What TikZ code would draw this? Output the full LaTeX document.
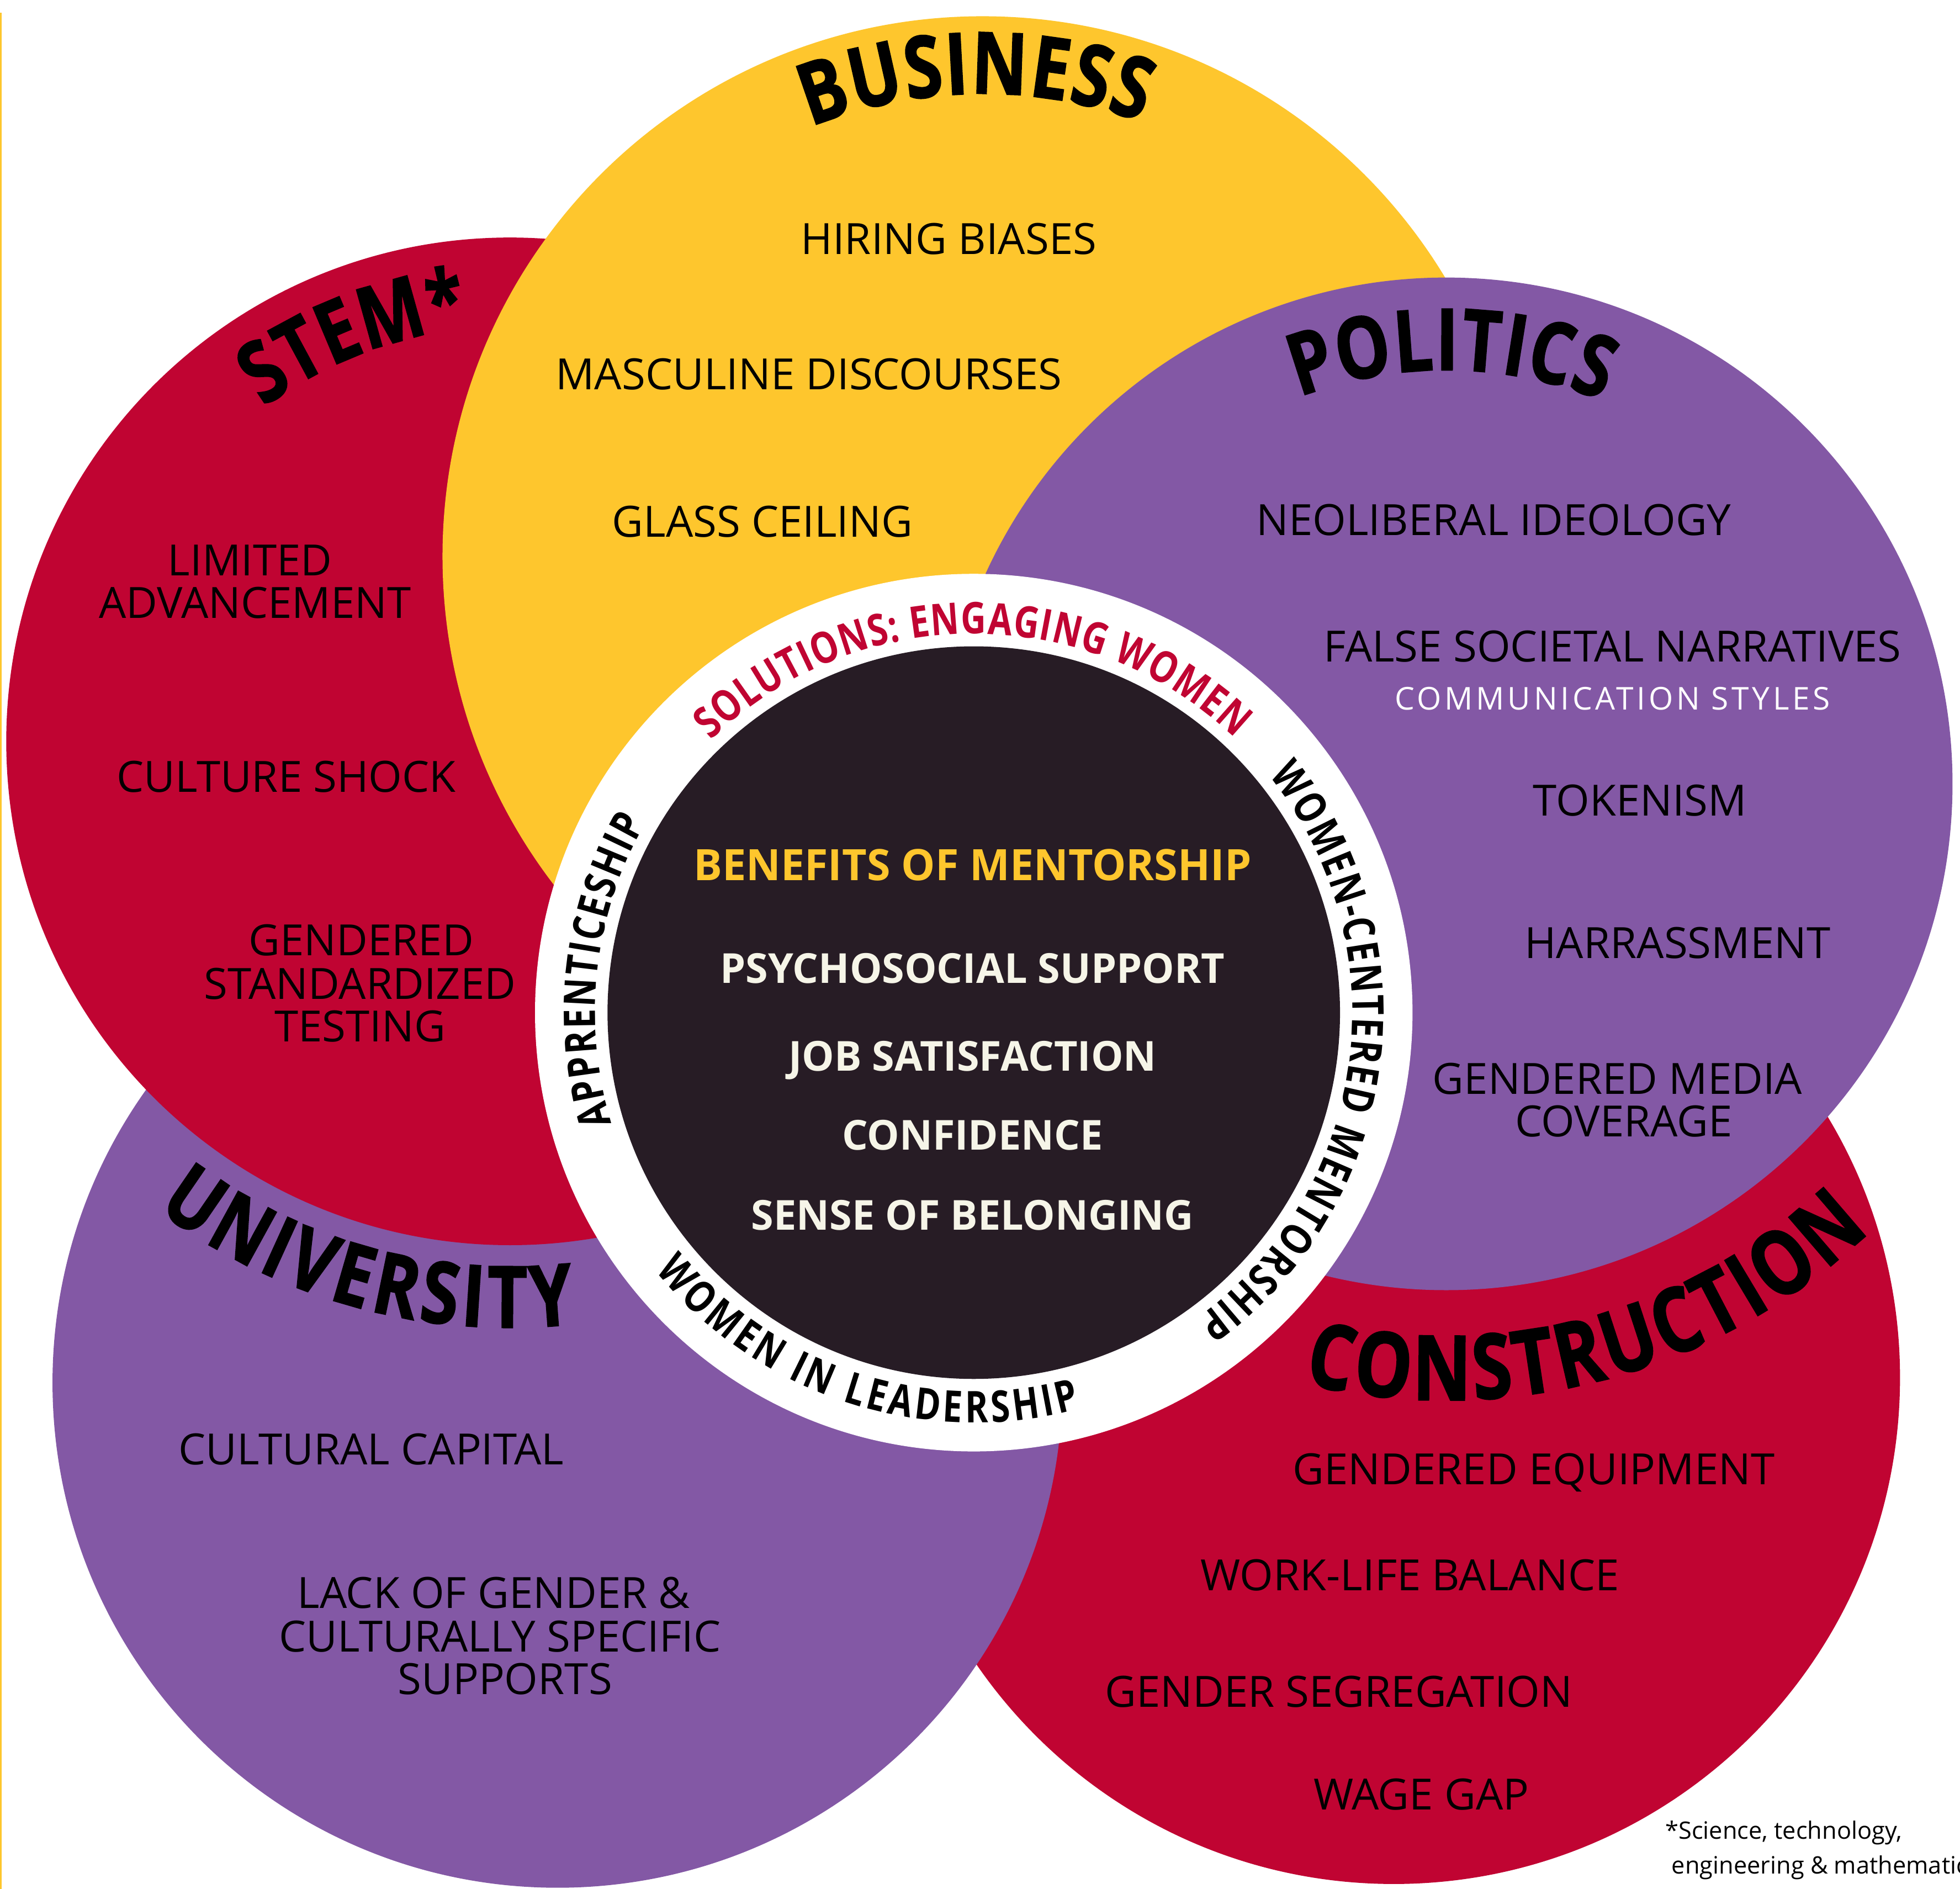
\documentclass[tikz,border=0pt]{standalone}
\usepackage{fontspec}
\setmainfont{Open Sans}
\newfontfamily\listfont{Open Sans}
\newfontfamily\ctrfont{Open Sans}[FakeStretch=0.985]
\newfontfamily\condfont{Open Sans}[FakeStretch=0.8]
\newfontfamily\ttlfont{Open Sans}[FakeStretch=0.8, BoldFeatures={FakeBold=1.5}]
\newfontfamily\commfont{Open Sans}[LetterSpace=10]
\usetikzlibrary{decorations.text}
\definecolor{cyel}{HTML}{FEC62D}
\definecolor{cred}{HTML}{C00432}
\definecolor{cpur}{HTML}{8358A5}
\definecolor{cdark}{HTML}{271C25}
\definecolor{ccream}{HTML}{F6F5E8}
\tikzset{
  item/.style={anchor=base, inner sep=0pt, font=\listfont\fontsize{19.6}{23}\selectfont, text=black},
  ctritem/.style={anchor=base, inner sep=0pt, font=\ctrfont\bfseries\fontsize{18.8}{22}\selectfont, text=ccream},
  ctrhead/.style={anchor=base, inner sep=0pt, font=\ctrfont\bfseries\fontsize{19.7}{23}\selectfont, text=cyel},
  commitem/.style={anchor=base, inner sep=0pt, font=\commfont\fontsize{14.3}{17}\selectfont, text=white},
  foot/.style={anchor=base west, inner sep=0pt, font=\listfont\fontsize{10.9}{13}\selectfont, text=black},
  curved/.style={decorate, decoration={text along path, text align={fit to path}, text color=#1}},
}
\newcommand{\ringtxt}{\condfont\bfseries\fontsize{19.9}{22}\selectfont}
\newcommand{\ttltxt}{\ttlfont\bfseries\fontsize{39}{42}\selectfont}
\newcommand{\ttltxtb}{\ttlfont\bfseries\fontsize{41}{44}\selectfont}
\begin{document}
\begin{tikzpicture}[x=0.02cm, y=-0.02cm]
\useasboundingbox (0,0) rectangle (1568,1511);
\clip (0,0) rectangle (1568,1511);
\fill[white] (0,0) rectangle (1568,1511);
\fill[cyel] (0,10) rectangle (1.3,1511);
% circles
\fill[cred] (1115,1102) circle[radius=405];
\fill[cpur] (446,1106) circle[radius=404];
\fill[cred] (408,593) circle[radius=403];
\fill[cyel] (786,445) circle[radius=432];
\fill[cpur] (1157,627) circle[radius=405];
\fill[white] (779,810) circle[radius=351];
\fill[cdark] (779,810) circle[radius=293];
% titles
\path[curved=black, decoration={text={|\ttltxt|BUSINESS}}] (786,445) ++(-111.8:370) arc[start angle=-111.8, end angle=-69.9, radius=370];
\path[curved=black, decoration={text={|\ttltxt|STEM*}}] (408,593) ++(-126.4:332) arc[start angle=-126.4, end angle=-95.9, radius=332];
\path[curved=black, decoration={text={|\ttltxt|POLITICS}}] (1157,627) ++(-110.8:331) arc[start angle=-110.8, end angle=-67.8, radius=331];
\path[curved=black, decoration={text={|\ttltxt|UNIVERSITY}}] (408,593) ++(127:469) arc[start angle=127, end angle=83.7, radius=469];
\path[curved=black, decoration={text={|\ttltxtb|CONSTRUCTION}}] (1157,627) ++(103.4:493) arc[start angle=103.4, end angle=46.6, radius=493];
% ring texts
\path[curved=cred, decoration={text={|\ringtxt|SOLUTIONS: ENGAGING WOMEN}}] (779,810) ++(-134:303) arc[start angle=-134, end angle=-46.5, radius=303];
\path[curved=black, decoration={text={|\ringtxt|WOMEN-CENTERED MENTORSHIP}}] (779,810) ++(-38.8:303) arc[start angle=-38.8, end angle=54, radius=303];
\path[curved=black, decoration={text={|\ringtxt|APPRENTICESHIP}}] (779,810) ++(163:303) arc[start angle=163, end angle=210, radius=303];
\path[curved=black, decoration={text={|\ringtxt|WOMEN IN LEADERSHIP}}] (779,810) ++(141:328) arc[start angle=141, end angle=75, radius=328];
% business items
\node[item] (b1) at (759,203.4) {HIRING BIASES};
\node[item] (b2) at (647,311.4) {MASCULINE DISCOURSES};
\node[item] (b3) at (610,429.4) {GLASS CEILING};
% stem items
\node[item] (s1a) at (200,460.4) {LIMITED};
\node[item] (s1b) at (204,494.4) {ADVANCEMENT};
\node[item] (s2) at (229,633.4) {CULTURE SHOCK};
\node[item] (s3a) at (289,764.4) {GENDERED};
\node[item] (s3b) at (288,799.4) {STANDARDIZED};
\node[item] (s3c) at (288,833.4) {TESTING};
% politics items
\node[item] (p1) at (1195,428.4) {NEOLIBERAL IDEOLOGY};
\node[item] (p2) at (1290,529.4) {FALSE SOCIETAL NARRATIVES};
\node[commitem] (p3) at (1290,568) {COMMUNICATION STYLES};
\node[item] (p4) at (1312,652.4) {TOKENISM};
\node[item] (p5) at (1342,766.4) {HARRASSMENT};
\node[item] (p6a) at (1294,875.4) {GENDERED MEDIA};
\node[item] (p6b) at (1299,909.4) {COVERAGE};
% university items
\node[item] (u1) at (297,1171.4) {CULTURAL CAPITAL};
\node[item] (u2a) at (395,1286.4) {LACK OF GENDER \&};
\node[item] (u2b) at (400,1321.4) {CULTURALLY SPECIFIC};
\node[item] (u2c) at (404,1355.4) {SUPPORTS};
% construction items
\node[item] (c1) at (1227,1187.4) {GENDERED EQUIPMENT};
\node[item] (c2) at (1128,1272.4) {WORK-LIFE BALANCE};
\node[item] (c3) at (1071,1365.4) {GENDER SEGREGATION};
\node[item] (c4) at (1137,1447.4) {WAGE GAP};
% center
\node[ctrhead] (m0) at (778,704.4) {BENEFITS OF MENTORSHIP};
\node[ctritem] (m1) at (778,786.6) {PSYCHOSOCIAL SUPPORT};
\node[ctritem] (m2) at (778,856.6) {JOB SATISFACTION};
\node[ctritem] (m3) at (778,919.7) {CONFIDENCE};
\node[ctritem] (m4) at (778,983.9) {SENSE OF BELONGING};
% footnote
\node[foot] (f1) at (1332,1471) {*Science, technology,};
\node[foot] (f2) at (1337,1499) {engineering \& mathematics};
\end{tikzpicture}
\end{document}
